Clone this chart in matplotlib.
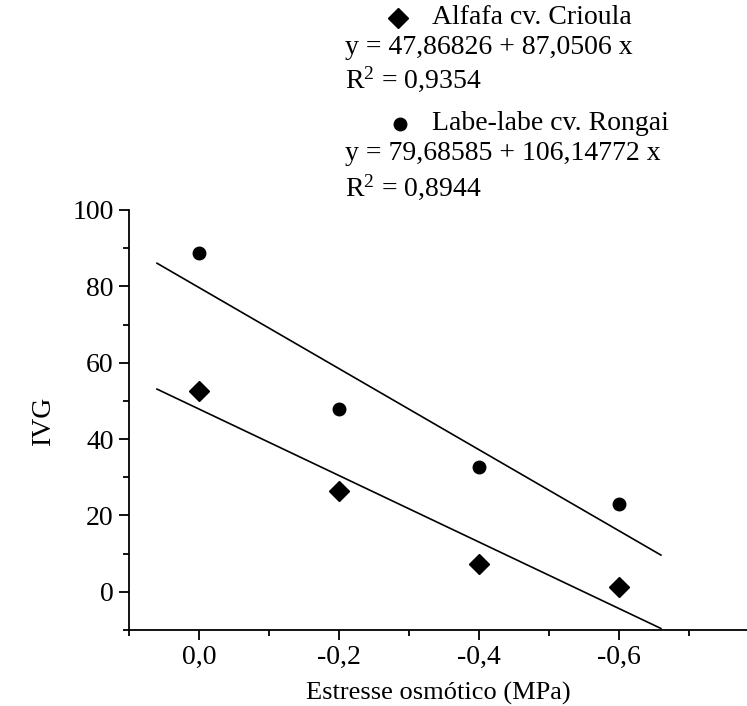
import matplotlib
matplotlib.use("Agg")
import matplotlib.pyplot as plt
from matplotlib.lines import Line2D
from matplotlib.ticker import MultipleLocator, FuncFormatter
import numpy as np

# osmotic stress levels (MPa)
stress = [0.0, -0.2, -0.4, -0.6]
alfafa = [52.5, 26.3, 7.3, 1.2]
labe = [88.7, 47.8, 32.8, 23.1]

# regression coefficients as printed on the chart
alf_a, alf_b, alf_r2 = 47.86826, 87.0506, "0,9354"
lab_a, lab_b, lab_r2 = 79.68585, 106.14772, "0,8944"
fit_x = np.array([0.06, -0.66])

plt.rcParams['font.family'] = ['Liberation Serif', 'DejaVu Serif']
plt.rcParams['font.size'] = 20
plt.rcParams['mathtext.fontset'] = 'custom'
plt.rcParams['mathtext.rm'] = 'Liberation Serif'
plt.rcParams['mathtext.it'] = 'Liberation Serif:italic'
FS = 20

fig = plt.figure(figsize=(7.47, 7.06), dpi=100)
ax = fig.add_axes([0.1727, 0.1076, 0.8273, 0.595])

ax.plot(fit_x, alf_a + alf_b * fit_x, color='black', lw=1.2)
ax.plot(fit_x, lab_a + lab_b * fit_x, color='black', lw=1.2)
ax.plot(stress, alfafa, 'D', color='black', ms=10, ls='none')
ax.plot(stress, labe, 'o', color='black', ms=9, ls='none')

ax.set_xlim(0.1, -0.783)
ax.set_ylim(-10, 100)
ax.xaxis.set_minor_locator(MultipleLocator(0.1))
ax.yaxis.set_minor_locator(MultipleLocator(10))
ax.set_xticks([0.0, -0.2, -0.4, -0.6])
ax.xaxis.set_major_formatter(FuncFormatter(lambda v, p: ("%.1f" % v).replace(".", ",").replace("-0,0", "0,0")))
ax.set_yticks([0, 20, 40, 60, 80, 100])

for s in ['top', 'right']:
    ax.spines[s].set_visible(False)
for s in ['left', 'bottom']:
    ax.spines[s].set_linewidth(1.3)
ax.tick_params(which='major', direction='out', length=7, width=1.3, labelsize=FS, pad=4)
ax.tick_params(which='minor', direction='out', length=4, width=1.3)

ax.set_xlabel("Estresse osmótico (MPa)", fontsize=19, labelpad=8)
ax.set_ylabel("IVG", fontsize=FS, labelpad=12)

# legend block above the axes
fig.add_artist(Line2D([398 / 747], [1 - 18 / 706], marker='D', color='black', ms=10, ls='none'))
fig.add_artist(Line2D([400 / 747], [1 - 124 / 706], marker='o', color='black', ms=9, ls='none'))
tx = 345 / 747
fig.text(432 / 747, 1 - 17 / 706, "Alfafa cv. Crioula", va='center', fontsize=FS)
fig.text(tx, 1 - 48 / 706, "y = 47,86826 + 87,0506 x", va='center', fontsize=FS)
fig.text(tx, 1 - 79 / 706, "R$^{2}$ = " + alf_r2, va='center', fontsize=FS)
fig.text(432 / 747, 1 - 124 / 706, "Labe-labe cv. Rongai", va='center', fontsize=FS)
fig.text(tx, 1 - 154 / 706, "y = 79,68585 + 106,14772 x", va='center', fontsize=FS)
fig.text(tx, 1 - 187 / 706, "R$^{2}$ = " + lab_r2, va='center', fontsize=FS)

fig.savefig("out.png", dpi=100)
